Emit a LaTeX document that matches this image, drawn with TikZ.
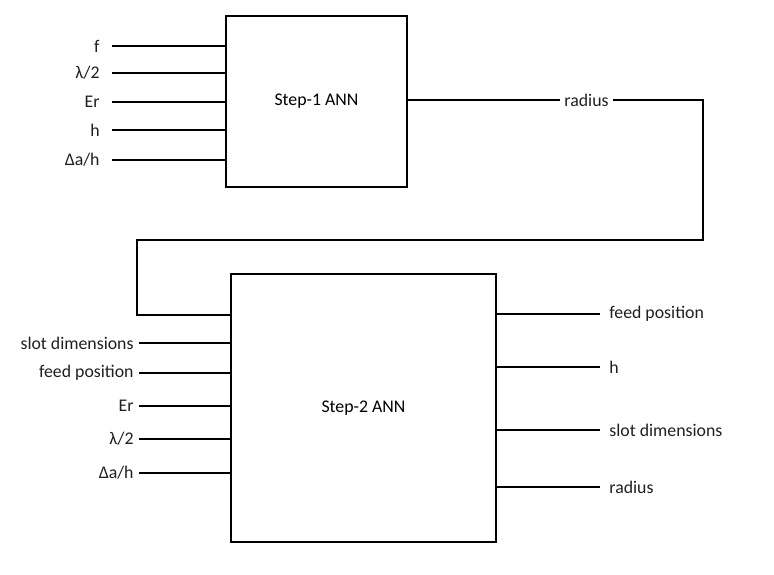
\documentclass[tikz,border=0pt]{standalone}
\usepackage{fontspec}
\setmainfont{Carlito}
\usetikzlibrary{positioning}
\tikzset{
  annbox/.style={draw, line width=0.65pt, inner sep=0pt, font=\fontsize{8.9}{10.5}\selectfont},
  wire/.style={line width=0.65pt},
  txt/.style={font=\fontsize{8.9}{10.5}\selectfont, text=black!88, inner ysep=1pt},
  inlab/.style={txt, anchor=east},
  outlab/.style={txt, anchor=west, inner xsep=4.5pt},
}

\begin{document}
\begin{tikzpicture}[x=0.5pt,y=-0.5pt]
\useasboundingbox (0,0) rectangle (774,574);

% ===================== first network ========================
\node[annbox, minimum width=90.5pt, minimum height=85.5pt] (ann1) at (316.5,101.5) {Step-1 ANN};
\foreach \lab/\yy [count=\i] in {f/46,{λ/2}/73,Er/102,h/130,{Δa/h}/160}{
  \node[inlab, inner xsep=6pt] (inA\i) at (112,\yy) {\lab};
  \draw[wire] (inA\i.east) -- (inA\i.east -| ann1.west);
}

% ===================== second network =======================
\node[annbox, minimum width=132.5pt, minimum height=134pt] (ann2) at (363.5,408) {Step-2 ANN};
\foreach \lab/\yy [count=\i] in {slot dimensions/343,feed position/373,Er/406,{λ/2}/439,{Δa/h}/473}{
  \node[inlab, inner xsep=2.5pt] (inB\i) at (139,\yy) {\lab};
  \draw[wire] (inB\i.east) -- (inB\i.east -| ann2.west);
}
\foreach \lab/\yy [count=\i] in {feed position/314,h/367,slot dimensions/430,radius/487}{
  \node[outlab] (outB\i) at (600,\yy) {\lab};
  \draw[wire] (ann2.east |- outB\i.west) -- (outB\i.west);
}

% radius fed back into step 2
\node[txt, inner xsep=2pt] (rad) at (586.5,100) {radius};
\coordinate (c1) at (703,100);
\coordinate (c2) at (703,240);
\coordinate (c3) at (137,240);
\coordinate (c4) at (137,315);
\draw[wire] (ann1.east |- rad) -- (rad.west);
\draw[wire] (rad.east) -- (c1) -- (c2) -- (c3) -- (c4) -- (c4 -| ann2.west);

\end{tikzpicture}
\end{document}
